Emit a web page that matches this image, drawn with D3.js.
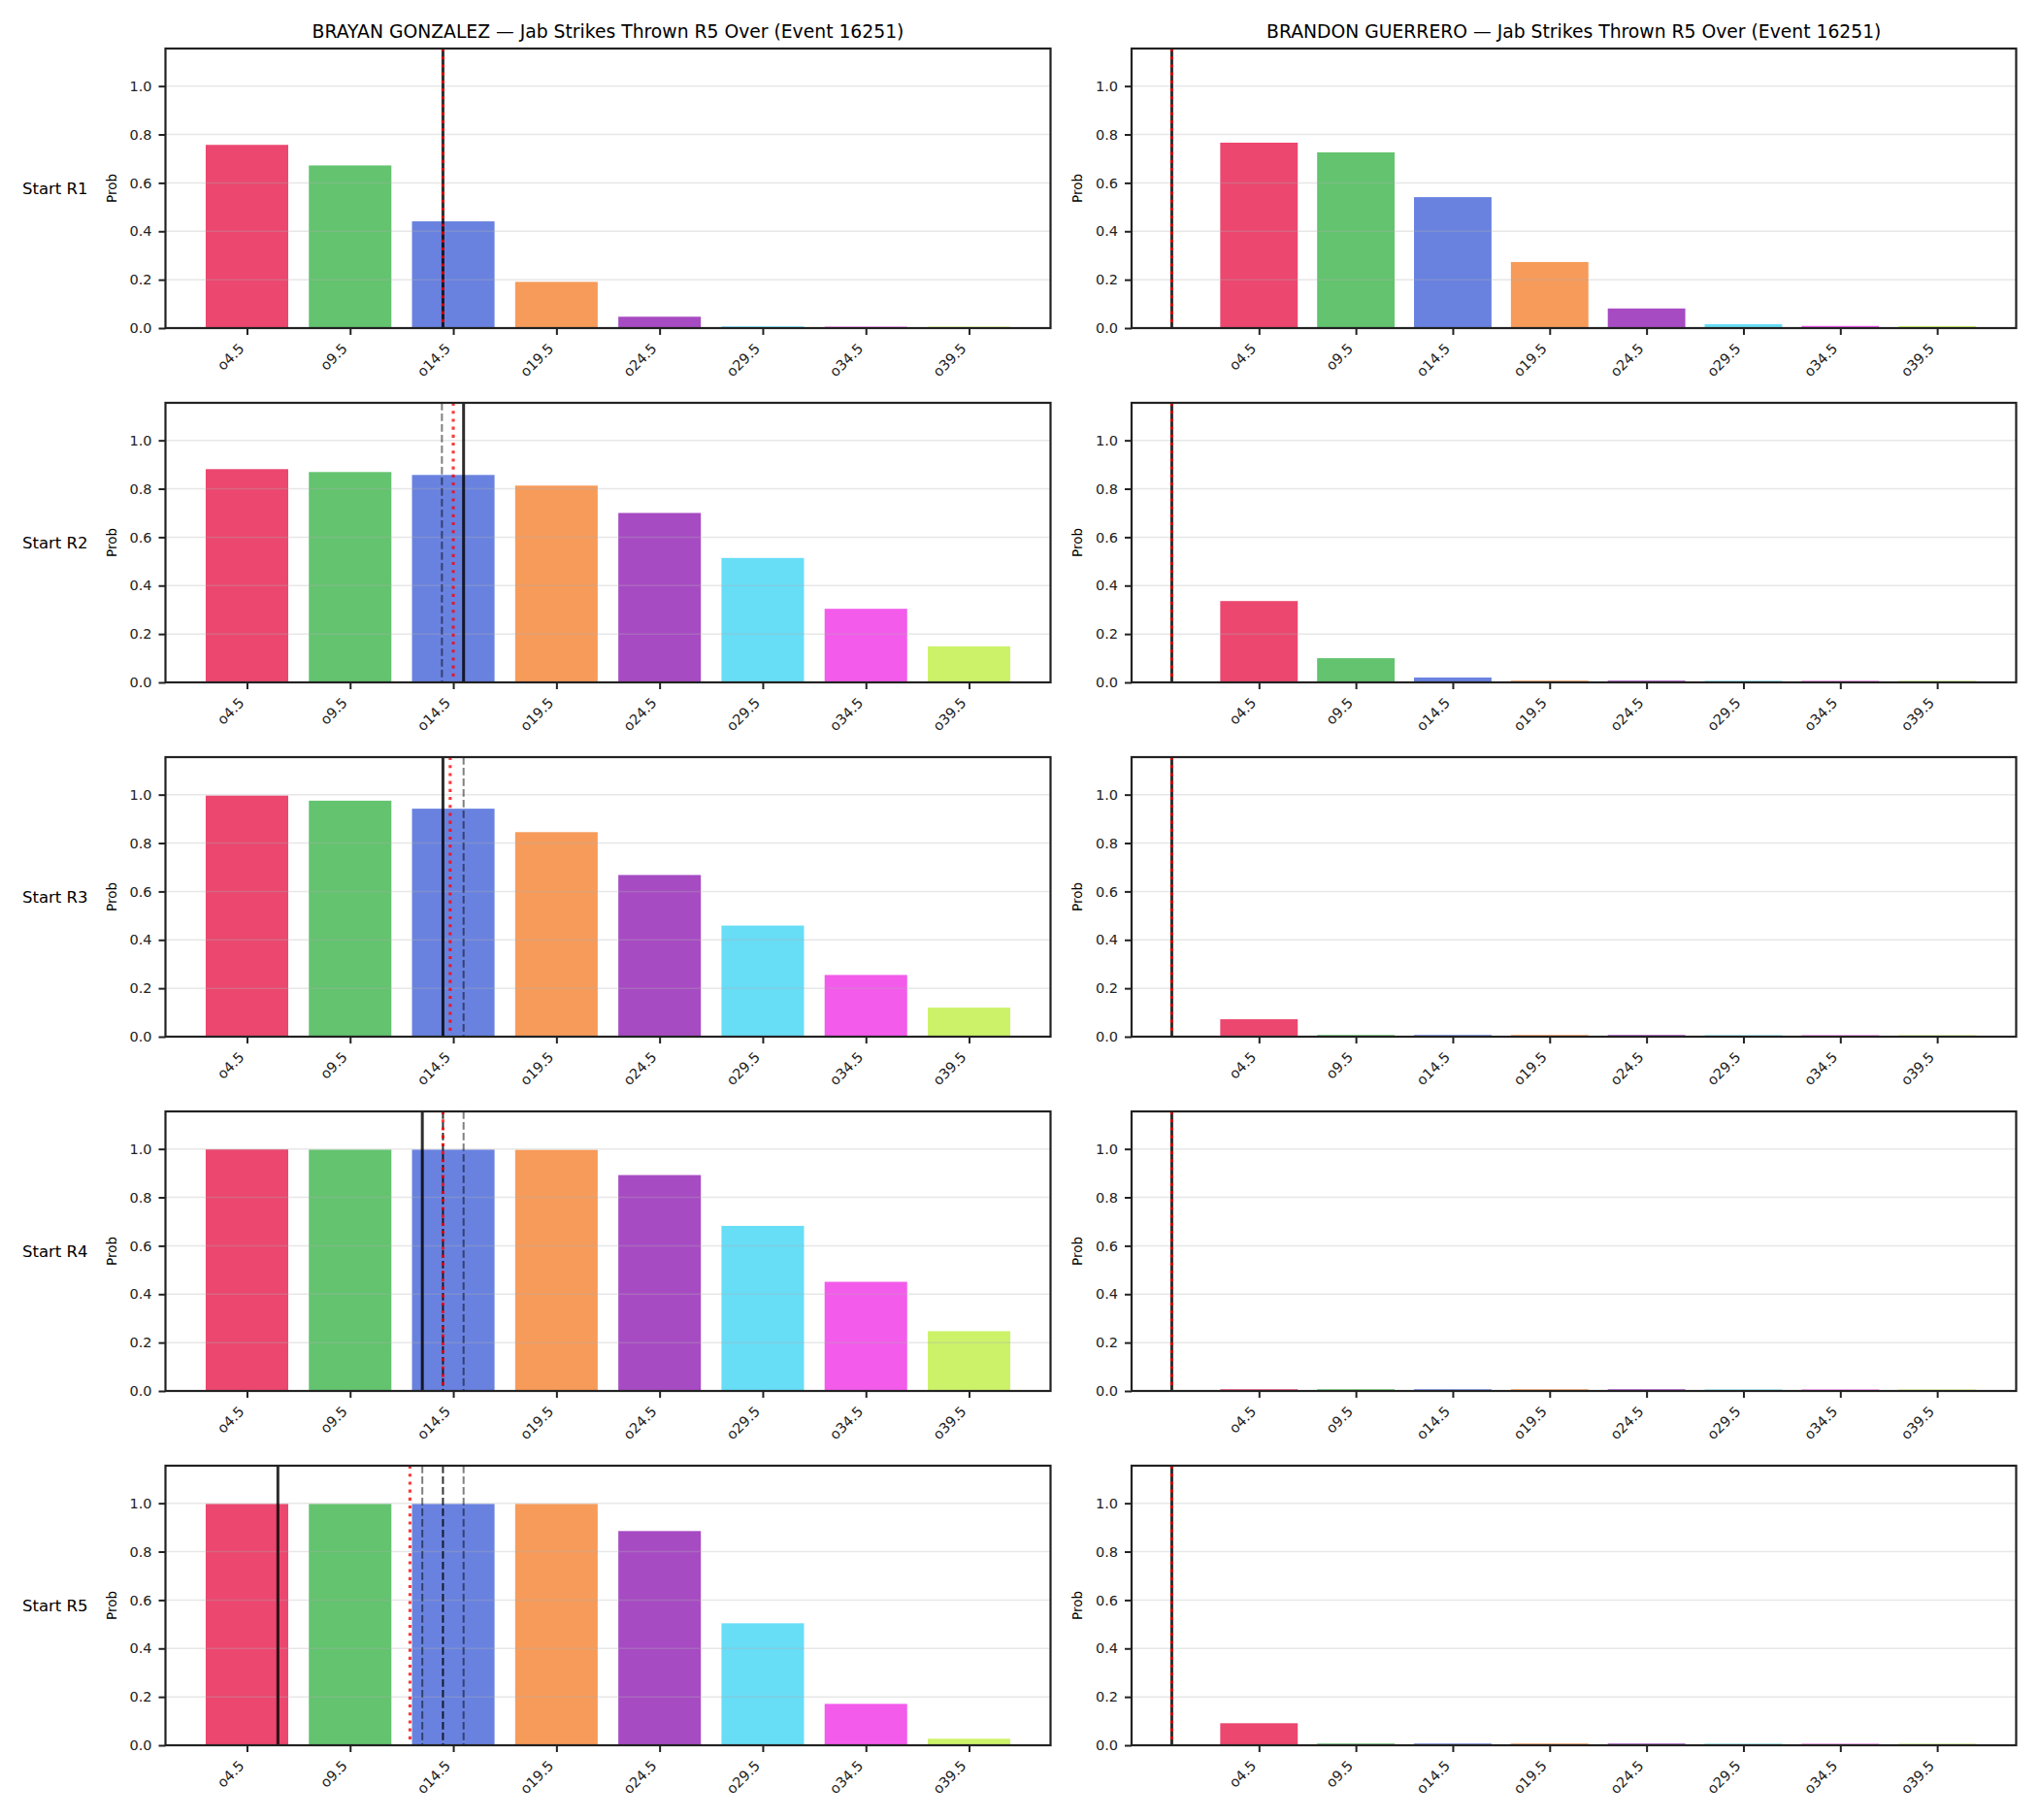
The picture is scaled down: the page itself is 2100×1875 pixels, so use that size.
<!DOCTYPE html>
<html>
<head>
<meta charset="utf-8">
<script src="https://cdn.jsdelivr.net/npm/d3@7"></script>
<style>
    body { margin: 0; background: #fff; }
    svg { display: block; font-family: "DejaVu Sans", sans-serif; }
</style>
</head>
<body>
<div id="chart"></div>
<script>
/* ============================================================
   DATA
============================================================ */

const THRESHOLDS = ["o4.5", "o9.5", "o14.5", "o19.5", "o24.5", "o29.5", "o34.5", "o39.5"];
const ROUND_LABELS = ["Start R1", "Start R2", "Start R3", "Start R4", "Start R5"];
const FIGHTERS = ["BRAYAN GONZALEZ", "BRANDON GUERRERO"];
const TITLE_SUFFIX = " — Jab Strikes Thrown R5 Over (Event 16251)";
const Y_TICKS = [0, 0.2, 0.4, 0.6, 0.8, 1.0];

// over-probabilities, one row per start round
const GONZALEZ_PROBS = [
    [0.757, 0.672, 0.441, 0.191, 0.047, 0.007, 0.006, 0.006],
    [0.881, 0.869, 0.857, 0.813, 0.700, 0.514, 0.304, 0.149],
    [0.996, 0.975, 0.942, 0.845, 0.668, 0.459, 0.255, 0.120],
    [0.998, 0.997, 0.997, 0.996, 0.892, 0.682, 0.451, 0.247],
    [0.997, 0.997, 0.997, 0.997, 0.885, 0.504, 0.171, 0.027]
];

const GUERRERO_PROBS = [
    [0.766, 0.726, 0.541, 0.273, 0.081, 0.016, 0.009, 0.008],
    [0.336, 0.100, 0.020, 0.007, 0.007, 0.006, 0.006, 0.006],
    [0.072, 0.007, 0.007, 0.007, 0.007, 0.006, 0.006, 0.006],
    [0.007, 0.007, 0.007, 0.007, 0.007, 0.006, 0.006, 0.006],
    [0.091, 0.007, 0.007, 0.007, 0.007, 0.006, 0.006, 0.006]
];

// reference markers, in strikes: solid, red dotted, dark dashed, grey dashed
const GONZALEZ_SOLID = [14.0, 15.0, 14.0, 13.0, 6.0];
const GONZALEZ_DOTTED = [14.0, 14.5, 14.35, 14.0, 12.4];
const GONZALEZ_DARK_DASHED = [[], [], [], [14.0], [14.0]];
const GONZALEZ_GREY_DASHED = [[], [13.95], [15.0], [15.0], [13.0, 15.0]];

const GUERRERO_SOLID = [0, 0, 0, 0, 0];
const GUERRERO_DOTTED = [0, 0, 0, 0, 0];
const GUERRERO_DARK_DASHED = [[], [], [], [], []];
const GUERRERO_GREY_DASHED = [[], [], [], [], []];

const LINE_START = 4.5;   // strikes value of the first category
const LINE_STEP = 5;      // strikes between categories

const BAR_COLORS = ["#e6194b", "#3cb44b", "#4363d8", "#f58231", "#911eb4", "#42d4f4", "#f032e6", "#bfef45"];

/* ============================================================
   LAYOUT
============================================================ */

const W = 2100, H = 1875;
const colLeft = [170.5, 1166];
const colRight = [1082.5, 2077.5];
const rowTop = 50, rowStep = 365, rowHeight = 288;
const Y_MAX = 1.155;

const svg = d3.select("#chart")
    .append("svg")
    .attr("width", W)
    .attr("height", H);

svg.append("rect").attr("width", W).attr("height", H).attr("fill", "#fff");

const panels = [
    { probs: GONZALEZ_PROBS, solid: GONZALEZ_SOLID, dotted: GONZALEZ_DOTTED,
      dark: GONZALEZ_DARK_DASHED, grey: GONZALEZ_GREY_DASHED },
    { probs: GUERRERO_PROBS, solid: GUERRERO_SOLID, dotted: GUERRERO_DOTTED,
      dark: GUERRERO_DARK_DASHED, grey: GUERRERO_GREY_DASHED }
];

const toIndex = v => (v - LINE_START) / LINE_STEP;

/* ============================================================
   PANELS
============================================================ */

panels.forEach((p, c) => {
    // titles
    svg.append("text")
        .attr("x", (colLeft[c] + colRight[c]) / 2)
        .attr("y", 38.5)
        .attr("text-anchor", "middle")
        .attr("font-size", "18.75px")
        .attr("fill", "#000")
        .text(FIGHTERS[c] + TITLE_SUFFIX);

    p.probs.forEach((vals, r) => {
        const top = rowTop + r * rowStep;
        const bottom = top + rowHeight;

        const lines = [
            ...[p.solid[r]], ...[p.dotted[r]], ...p.dark[r], ...p.grey[r]
        ].map(toIndex);
        const lo = Math.min(-0.4, d3.min(lines));
        const hi = Math.max(THRESHOLDS.length - 0.6, d3.max(lines));
        const pad = (hi - lo) * 0.05;

        const x = d3.scaleLinear()
            .domain([lo - pad, hi + pad])
            .range([colLeft[c], colRight[c]]);

        const y = d3.scaleLinear()
            .domain([0, Y_MAX])
            .range([bottom, top]);

        const g = svg.append("g");

        // bars
        g.selectAll("rect.bar")
            .data(vals)
            .join("rect")
            .attr("class", "bar")
            .attr("x", (d, i) => x(i - 0.4))
            .attr("width", x(0.8) - x(0))
            .attr("y", d => y(d))
            .attr("height", d => y(0) - y(d))
            .attr("fill", (d, i) => BAR_COLORS[i])
            .attr("fill-opacity", 0.8);

        // grid
        g.selectAll("line.grid")
            .data(Y_TICKS.slice(1))
            .join("line")
            .attr("class", "grid")
            .attr("x1", colLeft[c])
            .attr("x2", colRight[c])
            .attr("y1", d => y(d))
            .attr("y2", d => y(d))
            .attr("stroke", "#b0b0b0")
            .attr("stroke-opacity", 0.3)
            .attr("stroke-width", 1.5);

        // reference lines
        const vline = (v, color, opacity, width, dash) => {
            g.append("line")
                .attr("x1", x(toIndex(v)))
                .attr("x2", x(toIndex(v)))
                .attr("y1", top)
                .attr("y2", bottom)
                .attr("stroke", color)
                .attr("stroke-opacity", opacity)
                .attr("stroke-width", width)
                .attr("stroke-dasharray", dash);
        };

        p.grey[r].forEach(v => vline(v, "#000", 0.5, 2, "7.7,3.3"));
        vline(p.solid[r], "#000", 0.82, 3, null);
        p.dark[r].forEach(v => vline(v, "#000", 0.8, 2, "7.7,3.3"));
        vline(p.dotted[r], "#ff0000", 0.78, 3.1, "3.1,5.1");

        // y axis
        const yAxis = g.append("g")
            .attr("transform", `translate(${colLeft[c]},0)`)
            .call(d3.axisLeft(y).tickValues(Y_TICKS).tickFormat(d3.format(".1f")).tickSize(7).tickPadding(7));
        yAxis.select(".domain").remove();
        yAxis.selectAll(".tick line").attr("stroke", "#222").attr("stroke-width", 2);
        yAxis.selectAll(".tick text")
            .attr("font-size", "14.5px")
            .attr("font-family", "DejaVu Sans")
            .attr("fill", "#222");

        // x axis
        const xAxis = g.append("g")
            .attr("transform", `translate(0,${bottom})`)
            .call(d3.axisBottom(x).tickValues(d3.range(THRESHOLDS.length)).tickFormat(i => THRESHOLDS[i]).tickSize(7));
        xAxis.select(".domain").remove();
        xAxis.selectAll(".tick line").attr("stroke", "#222").attr("stroke-width", 2);
        xAxis.selectAll(".tick text")
            .attr("font-size", "14.5px")
            .attr("font-family", "DejaVu Sans")
            .attr("fill", "#222")
            .attr("text-anchor", "end")
            .attr("dy", null)
            .attr("y", null)
            .attr("transform", "translate(-2.5,22) rotate(-45)");

        // frame
        g.append("rect")
            .attr("x", colLeft[c])
            .attr("y", top)
            .attr("width", colRight[c] - colLeft[c])
            .attr("height", rowHeight)
            .attr("fill", "none")
            .attr("stroke", "#222")
            .attr("stroke-width", 2.2);

        // y label
        svg.append("text")
            .attr("transform", `translate(${colLeft[c] - 55.5},${(top + bottom) / 2}) rotate(-90)`)
            .attr("dy", "0.35em")
            .attr("text-anchor", "middle")
            .attr("font-size", "13.5px")
            .attr("fill", "#000")
            .text("Prob");

        // row label
        if (c === 0) {
            svg.append("text")
                .attr("x", 23)
                .attr("y", (top + bottom) / 2)
                .attr("dy", "0.35em")
                .attr("font-size", "16.5px")
                .attr("fill", "#000")
                .text(ROUND_LABELS[r]);
        }
    });
});
</script>
</body>
</html>
